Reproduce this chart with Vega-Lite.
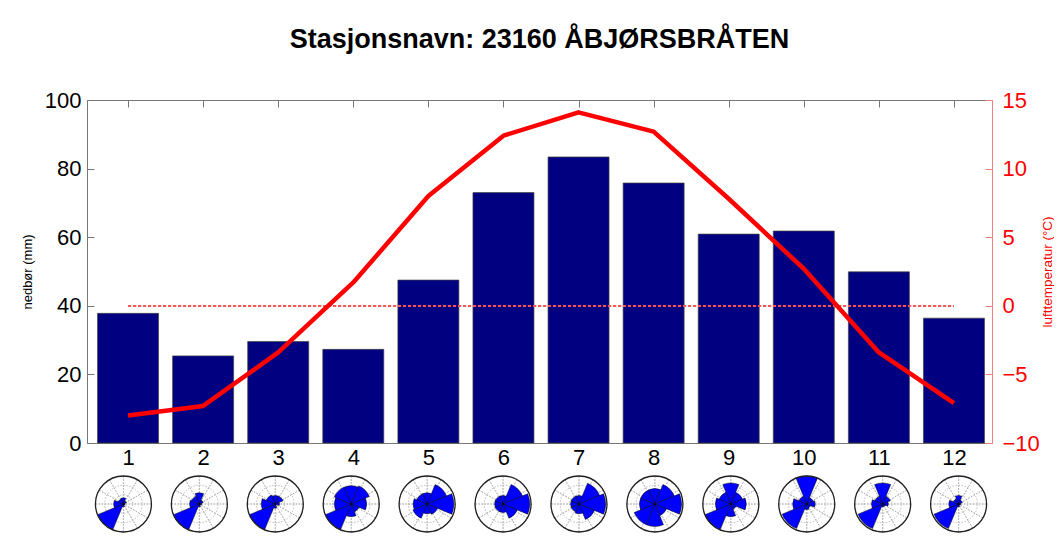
{
  "$schema": "https://vega.github.io/schema/vega-lite/v6.json",
  "padding": {"left": 21, "top": 26, "right": 0, "bottom": 0},
  "background": "white",
  "config": {"font": "Liberation Sans", "view": {"stroke": null}, "axis": {"grid": false}},
  "spacing": 5,
  "datasets": {
    "clim": [
      {"m": 1, "p": 37.8, "t": -8.0},
      {"m": 2, "p": 25.4, "t": -7.3},
      {"m": 3, "p": 29.6, "t": -3.4},
      {"m": 4, "p": 27.3, "t": 1.7},
      {"m": 5, "p": 47.5, "t": 8.0},
      {"m": 6, "p": 73.0, "t": 12.4},
      {"m": 7, "p": 83.4, "t": 14.1},
      {"m": 8, "p": 75.8, "t": 12.7},
      {"m": 9, "p": 60.9, "t": 7.8},
      {"m": 10, "p": 61.8, "t": 2.7},
      {"m": 11, "p": 49.9, "t": -3.4},
      {"m": 12, "p": 36.4, "t": -7.1}
    ],
    "roses": [
      {"m": 1, "N": 0.22, "NE": 0.12, "E": 0.05, "SE": 0.05, "S": 0.1, "SW": 1.0, "W": 0.35, "NW": 0.2},
      {"m": 2, "N": 0.4, "NE": 0.15, "E": 0.08, "SE": 0.05, "S": 0.1, "SW": 1.0, "W": 0.35, "NW": 0.3},
      {"m": 3, "N": 0.3, "NE": 0.3, "E": 0.15, "SE": 0.05, "S": 0.15, "SW": 1.0, "W": 0.5, "NW": 0.35},
      {"m": 4, "N": 0.65, "NE": 0.7, "E": 0.55, "SE": 0.3, "S": 0.45, "SW": 1.0, "W": 0.6, "NW": 0.65},
      {"m": 5, "N": 0.4, "NE": 0.75, "E": 0.95, "SE": 0.4, "S": 0.35, "SW": 0.55, "W": 0.5, "NW": 0.4},
      {"m": 6, "N": 0.3, "NE": 0.75, "E": 0.95, "SE": 0.55, "S": 0.3, "SW": 0.3, "W": 0.3, "NW": 0.3},
      {"m": 7, "N": 0.3, "NE": 0.8, "E": 0.95, "SE": 0.6, "S": 0.35, "SW": 0.3, "W": 0.3, "NW": 0.3},
      {"m": 8, "N": 0.55, "NE": 0.75, "E": 0.95, "SE": 0.45, "S": 0.8, "SW": 0.8, "W": 0.55, "NW": 0.55},
      {"m": 9, "N": 0.75, "NE": 0.45, "E": 0.55, "SE": 0.2, "S": 0.45, "SW": 1.0, "W": 0.55, "NW": 0.45},
      {"m": 10, "N": 1.0, "NE": 0.25, "E": 0.3, "SE": 0.15, "S": 0.2, "SW": 0.95, "W": 0.5, "NW": 0.3},
      {"m": 11, "N": 0.75, "NE": 0.3, "E": 0.2, "SE": 0.1, "S": 0.1, "SW": 0.95, "W": 0.4, "NW": 0.3},
      {"m": 12, "N": 0.3, "NE": 0.15, "E": 0.08, "SE": 0.05, "S": 0.1, "SW": 0.95, "W": 0.35, "NW": 0.2}
    ],
    "sectors": [
      {"key": "N", "d0": -22.5, "d1": 22.5},
      {"key": "NE", "d0": 22.5, "d1": 67.5},
      {"key": "E", "d0": 67.5, "d1": 112.5},
      {"key": "SE", "d0": 112.5, "d1": 157.5},
      {"key": "S", "d0": 157.5, "d1": 202.5},
      {"key": "SW", "d0": 202.5, "d1": 247.5},
      {"key": "W", "d0": 247.5, "d1": 292.5},
      {"key": "NW", "d0": 292.5, "d1": 337.5}
    ],
    "spokes": [
      {"a0": 0, "a1": 30, "mm": [1,2,3,4,5,6,7,8,9,10,11,12]},
      {"a0": 30, "a1": 60, "mm": [1,2,3,4,5,6,7,8,9,10,11,12]},
      {"a0": 60, "a1": 90, "mm": [1,2,3,4,5,6,7,8,9,10,11,12]},
      {"a0": 90, "a1": 120, "mm": [1,2,3,4,5,6,7,8,9,10,11,12]},
      {"a0": 120, "a1": 150, "mm": [1,2,3,4,5,6,7,8,9,10,11,12]},
      {"a0": 150, "a1": 180, "mm": [1,2,3,4,5,6,7,8,9,10,11,12]},
      {"a0": 180, "a1": 210, "mm": [1,2,3,4,5,6,7,8,9,10,11,12]},
      {"a0": 210, "a1": 240, "mm": [1,2,3,4,5,6,7,8,9,10,11,12]},
      {"a0": 240, "a1": 270, "mm": [1,2,3,4,5,6,7,8,9,10,11,12]},
      {"a0": 270, "a1": 300, "mm": [1,2,3,4,5,6,7,8,9,10,11,12]},
      {"a0": 300, "a1": 330, "mm": [1,2,3,4,5,6,7,8,9,10,11,12]},
      {"a0": 330, "a1": 360, "mm": [1,2,3,4,5,6,7,8,9,10,11,12]}
    ]
  },
  "vconcat": [
    {
      "title": {"text": "Stasjonsnavn: 23160 ÅBJØRSBRÅTEN", "fontSize": 27, "fontWeight": "bold", "color": "black", "offset": 35, "anchor": "middle"},
      "width": 905,
      "height": 343,
      "data": {"name": "clim"},
      "layer": [
        {
          "mark": {"type": "bar", "size": 61, "color": "#000080", "stroke": "#444444", "strokeWidth": 0.7},
          "encoding": {
            "x": {"field": "m", "type": "quantitative", "scale": {"domain": [0.52, 12.44], "nice": false, "zero": false},
              "axis": {"orient": "bottom", "values": [1,2,3,4,5,6,7,8,9,10,11,12], "title": null, "labelFontSize": 22, "labelColor": "black", "tickSize": -7, "labelPadding": 11, "domainColor": "#777777", "tickColor": "#777777", "labelFlush": false}},
            "y": {"field": "p", "type": "quantitative", "scale": {"domain": [0, 100], "nice": false},
              "axis": {"values": [0,20,40,60,80,100], "title": "nedbør (mm)", "titleFontSize": 13, "titleFontWeight": "normal", "titleColor": "black", "titlePadding": 10, "labelFontSize": 22, "labelColor": "black", "tickSize": -7, "labelPadding": 13, "domainColor": "#777777", "tickColor": "#777777"}}
          }
        },
        {
          "mark": {"type": "rule", "color": "#FF5555", "strokeDash": [3, 2], "strokeWidth": 1},
          "encoding": {
            "x": {"datum": 1, "type": "quantitative", "axis": null},
            "x2": {"datum": 12},
            "y": {"datum": 0, "type": "quantitative", "scale": {"domain": [-10, 15], "nice": false}, "axis": null}
          }
        },
        {
          "mark": {"type": "line", "color": "#FF0000", "strokeWidth": 4.5, "strokeJoin": "round"},
          "encoding": {
            "x": {"field": "m", "type": "quantitative",
              "axis": {"orient": "top", "values": [1,2,3,4,5,6,7,8,9,10,11,12], "labels": false, "title": null, "tickSize": -7, "domainColor": "#777777", "tickColor": "#777777"}},
            "y": {"field": "t", "type": "quantitative", "scale": {"domain": [-10, 15], "nice": false},
              "axis": {"orient": "right", "values": [-10,-5,0,5,10,15], "title": "lufttemperatur (°C)", "titleAngle": 270, "titleFontSize": 13.5, "titleFontWeight": "normal", "titleColor": "#FF0000", "titlePadding": 15, "labelFontSize": 22, "labelColor": "#FF0000", "tickSize": -7, "labelPadding": 17, "domainColor": "#F08080", "tickColor": "#F08080"}}
          }
        }
      ],
      "resolve": {"scale": {"y": "independent"}, "axis": {"x": "independent"}}
    },
    {
      "width": 905,
      "height": 58,
      "layer": [
        {
          "data": {"name": "clim"},
          "mark": {"type": "arc", "theta": 0, "theta2": 6.2832, "fill": "white"},
          "encoding": {
            "x": {"field": "m", "type": "quantitative", "stack": null, "scale": {"domain": [0.52, 12.44], "nice": false, "zero": false}, "axis": null},
            "radius": {"datum": 1, "type": "quantitative", "stack": null, "scale": {"type": "linear", "domain": [0, 1], "range": [0, 28], "zero": true}}
          }
        },
        {
          "data": {"name": "clim"},
          "mark": {"type": "arc", "theta": 0, "theta2": 6.2832, "filled": false, "stroke": "#AAAAAA", "strokeWidth": 0.8, "strokeDash": [1.5, 1.5]},
          "encoding": {
            "x": {"field": "m", "type": "quantitative", "stack": null, "axis": null},
            "radius": {"datum": 0.33, "type": "quantitative", "stack": null, "scale": {"type": "linear", "domain": [0, 1], "range": [0, 28], "zero": true}}
          }
        },
        {
          "data": {"name": "clim"},
          "mark": {"type": "arc", "theta": 0, "theta2": 6.2832, "filled": false, "stroke": "#AAAAAA", "strokeWidth": 0.8, "strokeDash": [1.5, 1.5]},
          "encoding": {
            "x": {"field": "m", "type": "quantitative", "stack": null, "axis": null},
            "radius": {"datum": 0.67, "type": "quantitative", "stack": null, "scale": {"type": "linear", "domain": [0, 1], "range": [0, 28], "zero": true}}
          }
        },
        {
          "data": {"name": "spokes"},
          "transform": [{"flatten": ["mm"]}],
          "mark": {"type": "arc", "filled": false, "stroke": "#AAAAAA", "strokeWidth": 0.8, "strokeDash": [1.5, 1.5]},
          "encoding": {
            "x": {"field": "mm", "type": "quantitative", "stack": null, "axis": null},
            "theta": {"field": "a0", "type": "quantitative", "stack": null, "scale": {"domain": [0, 360]}},
            "theta2": {"field": "a1"},
            "radius": {"datum": 1, "type": "quantitative", "stack": null, "scale": {"type": "linear", "domain": [0, 1], "range": [0, 28], "zero": true}}
          }
        },
        {
          "data": {"name": "roses"},
          "transform": [
            {"fold": ["N", "NE", "E", "SE", "S", "SW", "W", "NW"], "as": ["key", "r"]},
            {"lookup": "key", "from": {"data": {"name": "sectors"}, "key": "key", "fields": ["d0", "d1"]}}
          ],
          "mark": {"type": "arc", "fill": "#0000FF", "stroke": "#000000", "strokeWidth": 0.5},
          "encoding": {
            "x": {"field": "m", "type": "quantitative", "stack": null, "axis": null},
            "theta": {"field": "d0", "type": "quantitative", "stack": null, "scale": {"domain": [0, 360]}},
            "theta2": {"field": "d1"},
            "radius": {"field": "r", "type": "quantitative", "stack": null, "scale": {"type": "linear", "domain": [0, 1], "range": [0, 28], "zero": true}}
          }
        },
        {
          "data": {"name": "clim"},
          "mark": {"type": "arc", "theta": 0, "theta2": 6.2832, "filled": false, "stroke": "#222222", "strokeWidth": 1.3},
          "encoding": {
            "x": {"field": "m", "type": "quantitative", "stack": null, "axis": null},
            "radius": {"datum": 1, "type": "quantitative", "stack": null, "scale": {"type": "linear", "domain": [0, 1], "range": [0, 28], "zero": true}}
          }
        }
      ]
    }
  ]
}
